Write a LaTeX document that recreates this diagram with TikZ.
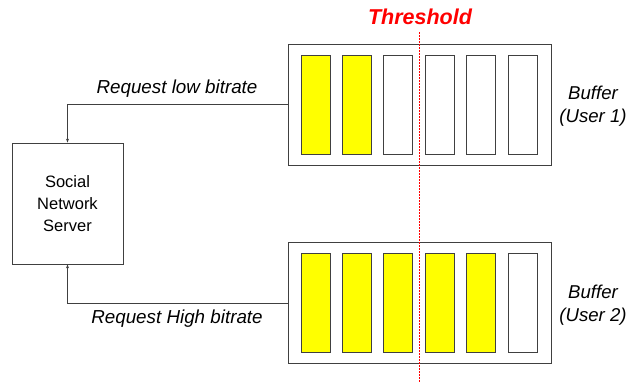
\documentclass[tikz,border=0pt]{standalone}
\usepackage{fontspec}
\setmainfont{Liberation Sans}
\usetikzlibrary{arrows.meta}
\definecolor{cellyellow}{RGB}{255,255,0}
\definecolor{edgegray}{RGB}{64,64,64}
\tikzset{
  outerbox/.style={draw=edgegray, line width=0.9pt, minimum width=263pt, minimum height=121pt, inner sep=0pt},
  cellbox/.style={draw=edgegray, line width=0.8pt, minimum width=29pt, minimum height=99pt, inner sep=0pt},
  fullcell/.style={cellbox, fill=cellyellow},
  reqlabel/.style={font=\fontsize{18.8}{22}\selectfont\itshape},
  buflabel/.style={font=\fontsize{18.6}{23}\selectfont\itshape, align=center},
}
\begin{document}
\begin{tikzpicture}[x=1pt,y=-1pt,>={Stealth[length=4pt,width=3pt]}]
	\def \pitch{41.4};
	\def \ytop{104.5};
	\def \ybot{303};
	\useasboundingbox (0,0) rectangle (627,383);
	% server
	\node[draw=edgegray, line width=0.8pt, minimum width=111pt, minimum height=121pt, align=center,
	      font=\fontsize{16.5}{22}\selectfont] (server) at (67.5,203.5) {Social\\Network\\Server};
	% buffers
	\node[outerbox] (buf1) at (419.5,\ytop) {};
	\node[outerbox] (buf2) at (419.5,\ybot) {};
	\foreach \i in {0,...,5}
	{
		\ifnum\i<2
			\node[fullcell] (ua\i) at (315.5+\pitch*\i,\ytop) {};
		\else
			\node[cellbox] (ua\i) at (315.5+\pitch*\i,\ytop) {};
		\fi
		\ifnum\i<5
			\node[fullcell] (ub\i) at (315.5+\pitch*\i,\ybot) {};
		\else
			\node[cellbox] (ub\i) at (315.5+\pitch*\i,\ybot) {};
		\fi
	}
	\node[buflabel] (lab1) at (593,106) {Buffer\\(User 1)};
	\node[buflabel] (lab2) at (593,305) {Buffer\\(User 2)};
	% requests
	\draw[->, edgegray, line width=0.8pt] (buf1.west) -| (server.north);
	\draw[->, edgegray, line width=0.8pt] (buf2.west) -| (server.south);
	\node[reqlabel] (low) at (177,89) {Request low bitrate};
	\node[reqlabel] (high) at (177,319) {Request High bitrate};
	% threshold
	\node[text=red, font=\fontsize{21.5}{24}\selectfont\bfseries\itshape] (thr) at (420,17) {Threshold};
	\coordinate (thrend) at (419,383);
	\draw[red, line width=0.7pt, dash pattern=on 1.5pt off 1.5pt] (thr.south -| thrend) ++(0,4) -- (thrend);
\end{tikzpicture}
\end{document}
